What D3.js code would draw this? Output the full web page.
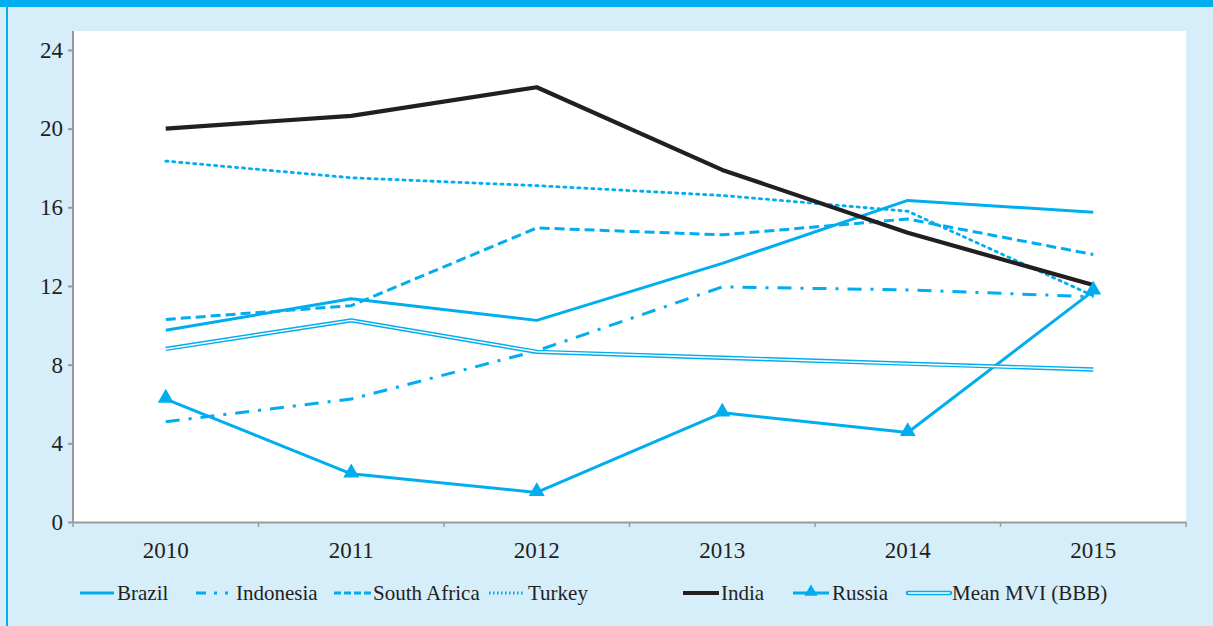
<!DOCTYPE html>
<html><head><meta charset="utf-8">
<script src="https://cdn.jsdelivr.net/npm/d3@7"></script>
<style>html,body{margin:0;padding:0;background:#d6edfa;}svg{display:block;}
svg text{font-family:"Liberation Serif","Times New Roman",Times,Tinos,"Noto Serif","DejaVu Serif",serif;fill:#231f20;}
</style>
</head><body>
<svg id="c" width="1213" height="626"></svg>
<script>
const years = ["2010","2011","2012","2013","2014","2015"];
const yTicks = [0,4,8,12,16,20,24];
const brazil = [9.75,11.35,10.25,13.15,16.35,15.75];
const indonesia = [5.1,6.25,8.7,11.95,11.8,11.45];
const southAfrica = [10.3,11.0,14.95,14.6,15.4,13.6];
const turkey = [18.35,17.5,17.1,16.6,15.8,11.5];
const india = [20.0,20.65,22.1,17.9,14.7,12.05];
const russia = [6.25,2.45,1.5,5.55,4.55,11.75];
const meanMVI = [8.8,10.25,8.65,8.35,8.05,7.75];

const CY = "#00aeef", BK = "#231f20";
const series = [
  {name:"Brazil", values:brazil, color:CY, w:3, dash:null},
  {name:"Indonesia", values:indonesia, color:CY, w:3, dash:"14,9,3,9"},
  {name:"South Africa", values:southAfrica, color:CY, w:3, dash:"10,5"},
  {name:"Turkey", values:turkey, color:CY, w:2.8, dash:"2.2,4.8"},
  {name:"India", values:india, color:BK, w:4.2, dash:null},
  {name:"Russia", values:russia, color:CY, w:3, dash:null, marker:true},
  {name:"Mean MVI (BBB)", values:meanMVI, color:CY, w:4.4, dash:null, dbl:true}
];

const svg = d3.select("#c");
svg.append("rect").attr("x",0).attr("y",0).attr("width",1213).attr("height",626).attr("fill","#d6edfa");
svg.append("rect").attr("x",0).attr("y",0).attr("width",1213).attr("height",7).attr("fill",CY);
svg.append("rect").attr("x",6).attr("y",0).attr("width",2).attr("height",626).attr("fill",CY);

const L=73, R=1186, T=31, B=522;
svg.append("rect").attr("x",L).attr("y",T).attr("width",R-L).attr("height",B-T).attr("fill","#fff");

const x = d3.scaleBand().domain(years).range([L,R]);
const y = d3.scaleLinear().domain([0,24]).range([B, B-24*19.67]);

const yAx = svg.append("g").attr("transform",`translate(${L},0)`)
  .call(d3.axisLeft(y).tickValues(yTicks).tickSize(5).tickSizeOuter(0));
yAx.select(".domain").attr("d",`M0,${T}V${B}`);
const xAx = svg.append("g").attr("transform",`translate(0,${B})`)
  .call(d3.axisBottom(x).tickSize(0).tickSizeOuter(0));
const bounds = years.map(d=>x(d)).concat([R]);
svg.append("g").selectAll("line").data(bounds).join("line")
  .attr("x1",d=>d).attr("x2",d=>d).attr("y1",B).attr("y2",B+5)
  .attr("stroke","#9a9a9a").attr("stroke-width",1.5);
[yAx,xAx].forEach(a=>{
  a.attr("font-family",null).attr("font-size",null);
  a.selectAll(".domain,.tick line").attr("stroke","#9a9a9a").attr("stroke-width",2);
  a.selectAll("text").style("font-size","23px").attr("fill",BK);
});
yAx.selectAll("text").attr("x",-10);
xAx.selectAll("text").attr("dy","1.45em");

const cx = d => x(d)+x.bandwidth()/2;
const line = d3.line().x((d,i)=>cx(years[i])).y(d=>y(d));

series.forEach(s=>{
  svg.append("path").attr("d",line(s.values)).attr("fill","none")
    .attr("stroke",s.color).attr("stroke-width",s.w)
    .attr("stroke-dasharray",s.dash).attr("stroke-linejoin","round")
    .attr("stroke-linecap", s.name==="Turkey"?"round":"butt");
  if(s.dbl){
    svg.append("path").attr("d",line(s.values)).attr("fill","none")
      .attr("stroke","#fff").attr("stroke-width",1.5).attr("stroke-linejoin","round");
  }
  if(s.marker){
    svg.append("g").selectAll("path").data(s.values).join("path")
      .attr("d",d3.symbol(d3.symbolTriangle,110)())
      .attr("transform",(d,i)=>`translate(${cx(years[i])},${y(d)-1})`)
      .attr("fill",s.color);
  }
});

const legend = [
  {lx:80, len:34, tx:117},
  {lx:196, len:32, tx:236},
  {lx:334, len:38, tx:373},
  {lx:489, len:35, tx:528},
  {lx:683, len:36, tx:721},
  {lx:793, len:36, tx:832},
  {lx:908, len:42, tx:952}
];
const LY = 593;
series.forEach((s,i)=>{
  const g = legend[i];
  const ld = s.name==="Indonesia" ? "10,8,3,8" : (s.name==="South Africa" ? "7,3" : (s.name==="Turkey"?"1.6,2.4":s.dash));
  svg.append("line").attr("x1",g.lx).attr("x2",g.lx+g.len).attr("y1",LY).attr("y2",LY)
    .attr("stroke",s.color).attr("stroke-width",s.dbl?4.4:(s.name==="India"?4:3))
    .attr("stroke-dasharray",ld).attr("stroke-linecap",s.dbl?"round":"butt");
  if(s.dbl){
    svg.append("line").attr("x1",g.lx).attr("x2",g.lx+g.len).attr("y1",LY).attr("y2",LY)
      .attr("stroke","#fff").attr("stroke-width",1.5);
  }
  if(s.marker){
    svg.append("path").attr("d",d3.symbol(d3.symbolTriangle,75)())
      .attr("transform",`translate(${g.lx+g.len/2},${LY-1})`).attr("fill",s.color);
  }
  svg.append("text").attr("x",g.tx).attr("y",LY).attr("dy","0.35em")
    .style("font-size","21px").attr("fill",BK).text(s.name);
});
</script>
</body></html>
